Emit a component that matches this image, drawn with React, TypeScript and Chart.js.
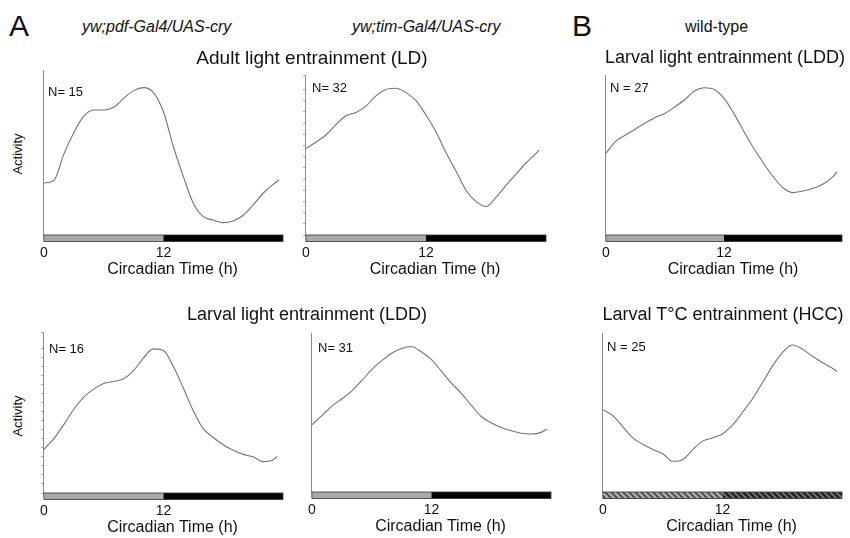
import React, { useEffect, useRef } from 'react';
import { Chart, registerables } from 'chart.js';

Chart.register(...registerables);

const FONT = '"Liberation Sans", Arial, Helvetica, sans-serif';

// ---------- data ----------
const HOURS = [0, 1, 2, 3, 4, 5, 6, 7, 8, 9, 10, 11, 12, 13, 14, 15, 16, 17, 18, 19, 20, 21, 22, 23];
const TICK_HOURS = [0, 12];
const LIGHT_START = 0;
const LIGHT_END = 12;
const CYCLE_END = 24;

// A, top-left: yw;pdf-Gal4/UAS-cry, adult LD
const PDF_LD_END = 23.6;
const PDF_LD = [31.5, 33, 49, 62, 72, 75.8, 75.8, 77.4, 82.8, 87.5, 89.3, 86.3, 74.7, 53.5, 35.4, 19.2, 11.1, 9.1, 7.5, 8.5, 12, 18.2, 25.3, 30.7, 33.3];
// A, top-middle: yw;tim-Gal4/UAS-cry, adult LD
const TIM_LD_END = 23.3;
const TIM_LD = [54, 58, 62.5, 69, 74.5, 76.5, 80.5, 87, 91, 91.7, 89, 84, 75, 64.5, 51.5, 40, 28, 21, 17.8, 23.5, 31, 38, 45, 51, 53];
// B, top-right: wild-type, larval LDD
const WT_LDD_END = 23.5;
const WT_LDD = [51, 58.5, 62.5, 66.3, 70, 73.5, 76, 80, 84.5, 90, 92, 91, 85.5, 76, 65, 54.5, 45, 36.5, 29.5, 26.5, 27.5, 29, 31.5, 36, 39.6];
// A, bottom-left: yw;pdf-Gal4/UAS-cry, larval LDD
const PDF_LDD_END = 23.4;
const PDF_LDD = [27, 33.8, 42.5, 52, 59.5, 64.5, 68, 69.2, 71, 76, 84, 89.5, 88.5, 78.5, 65, 51, 40, 34.5, 30, 26.5, 24, 22.5, 19.5, 20.5, 22.8];
// A, bottom-middle: yw;tim-Gal4/UAS-cry, larval LDD
const TIM_LDD_END = 23.6;
const TIM_LDD = [42.3, 48, 54, 58.5, 63.5, 70, 77, 82.5, 87.3, 90.3, 91.5, 88, 83.2, 76, 68.5, 62, 54.5, 47.5, 43.5, 40.5, 38.5, 37, 36.5, 37.5, 39.6];
// B, bottom-right: wild-type, larval HCC
const WT_HCC_END = 23.5;
const WT_HCC = [51.8, 48, 41, 34, 30, 26.8, 24, 19.3, 20.3, 26.5, 32, 34, 36.5, 42, 50, 58.5, 68.5, 79, 87.5, 92.5, 90, 85.5, 81.5, 78, 75.8];

// ---------- layout ----------
const PAD = 10;
const XAXIS_H = 30;
const BAR_H = 6.5;

type PanelCfg = {
  axisX: number; axisTop: number; barTop: number; w: number;
  hours: number[]; values: number[]; tickStep?: number; hatched?: boolean;
  n: string; nX: number; nY: number;
};

const PANELS: PanelCfg[] = [
  { axisX: 40, axisTop: 70, barTop: 235, w: 243, hours: [...HOURS, PDF_LD_END], values: PDF_LD, n: 'N= 15', nX: 48, nY: 91 },
  { axisX: 302, axisTop: 75, barTop: 235, w: 244, hours: [...HOURS, TIM_LD_END], values: TIM_LD, tickStep: 7, n: 'N= 32', nX: 312, nY: 87 },
  { axisX: 602, axisTop: 75, barTop: 235, w: 240, hours: [...HOURS, WT_LDD_END], values: WT_LDD, n: 'N = 27', nX: 610, nY: 87 },
  { axisX: 40, axisTop: 332, barTop: 493, w: 243, hours: [...HOURS, PDF_LDD_END], values: PDF_LDD, tickStep: 5.6, n: 'N= 16', nX: 49, nY: 348 },
  { axisX: 308, axisTop: 333, barTop: 492, w: 243, hours: [...HOURS, TIM_LDD_END], values: TIM_LDD, n: 'N= 31', nX: 318, nY: 347 },
  { axisX: 599, axisTop: 333, barTop: 492, w: 243, hours: [...HOURS, WT_HCC_END], values: WT_HCC, hatched: true, n: 'N = 25', nX: 607, nY: 346 },
];

function makeStripes(bg: string, fg: string, lw: number): CanvasPattern | string {
  const c = document.createElement('canvas');
  c.width = 6; c.height = 6;
  const g = c.getContext('2d');
  if (!g) return bg;
  g.fillStyle = bg; g.fillRect(0, 0, 6, 6);
  g.strokeStyle = fg; g.lineWidth = lw;
  g.beginPath();
  g.moveTo(-1, -1); g.lineTo(7, 7);
  g.moveTo(-4, 2); g.lineTo(4, 10);
  g.moveTo(2, -4); g.lineTo(10, 4);
  g.stroke();
  const ctx2 = document.createElement('canvas').getContext('2d');
  return (ctx2 && ctx2.createPattern(c, 'repeat')) || bg;
}

const lightBarPlugin = {
  id: 'lightBar',
  afterDraw(chart: any, _args: any, opts: any) {
    const { ctx, chartArea, scales } = chart;
    const x = scales.x;
    const xa = x.getPixelForValue(LIGHT_START);
    const xb = x.getPixelForValue(LIGHT_END);
    const xc = x.getPixelForValue(CYCLE_END);
    const y0 = chartArea.bottom;
    ctx.save();
    if (opts && opts.hatched) {
      ctx.fillStyle = makeStripes('#555555', '#b5b5b5', 2);
      ctx.fillRect(xa, y0, xb - xa, BAR_H);
      ctx.fillStyle = makeStripes('#262626', '#858585', 1.4);
      ctx.fillRect(xb, y0, xc - xb, BAR_H);
    } else {
      ctx.fillStyle = '#a9a9a9';
      ctx.fillRect(xa, y0, xb - xa, BAR_H);
      ctx.fillStyle = '#000';
      ctx.fillRect(xb, y0, xc - xb, BAR_H);
    }
    ctx.strokeStyle = '#333';
    ctx.lineWidth = 0.8;
    ctx.strokeRect(xa, y0, xc - xa, BAR_H);
    ctx.restore();
  },
};

function Panel({ cfg }: { cfg: PanelCfg }) {
  const ref = useRef<HTMLCanvasElement>(null);
  const cw = cfg.w + PAD * 2;
  const ch = cfg.barTop - cfg.axisTop + PAD + XAXIS_H;
  useEffect(() => {
    const canvas = ref.current;
    if (!canvas) return;
    const chart = new Chart(canvas, {
      type: 'line',
      data: {
        datasets: [{
          data: cfg.hours.map((h, i) => ({ x: h, y: cfg.values[i] })),
          borderColor: '#737373',
          borderWidth: 1.1,
          pointRadius: 0,
          fill: false,
          cubicInterpolationMode: 'monotone',
        }],
      },
      options: {
        animation: false,
        responsive: false,
        maintainAspectRatio: false,
        events: [],
        layout: { padding: { left: PAD, right: PAD, top: PAD, bottom: 0 } },
        plugins: {
          legend: { display: false },
          tooltip: { enabled: false },
          lightBar: { hatched: !!cfg.hatched },
        } as any,
        scales: {
          x: {
            type: 'linear', min: 0, max: CYCLE_END,
            grid: { display: false, drawTicks: false, tickLength: 0 },
            border: { display: false },
            afterBuildTicks: (s: any) => { s.ticks = TICK_HOURS.map((v) => ({ value: v })); },
            afterFit: (s: any) => { s.height = XAXIS_H; },
            ticks: { font: { family: FONT, size: 14 }, color: '#111', padding: 10, maxRotation: 0, autoSkip: false },
          },
          y: {
            min: 0, max: 100,
            ticks: { display: false, stepSize: cfg.tickStep || 10 },
            grid: { display: !!cfg.tickStep, drawOnChartArea: false, drawTicks: true, tickLength: 3, color: '#b0b0b0' },
            border: { display: true, color: '#8c8c8c', width: 1 },
            afterFit: (s: any) => { s.width = 0; },
          },
        },
      } as any,
      plugins: [lightBarPlugin],
    });
    return () => chart.destroy();
  }, []);
  return (
    <canvas
      ref={ref}
      width={cw}
      height={ch}
      style={{ position: 'absolute', left: cfg.axisX - PAD, top: cfg.axisTop - PAD, width: cw, height: ch }}
    />
  );
}

function T({ text, x, y, size, italic, center, color }: { text: string; x: number; y: number; size: number; italic?: boolean; center?: boolean; color?: string }) {
  return (
    <div style={{
      position: 'absolute', left: x, top: y, fontFamily: FONT, fontSize: size, lineHeight: `${size}px`,
      fontStyle: italic ? 'italic' : 'normal', whiteSpace: 'nowrap', color: color || '#111',
      transform: center ? 'translateX(-50%)' : undefined,
    }}>{text}</div>
  );
}

export default function App() {
  return (
    <div style={{ position: 'absolute', left: 0, top: 0, width: 850, height: 538, background: '#fff', overflow: 'hidden' }}>
      {PANELS.map((p, i) => <Panel key={i} cfg={p} />)}
      <T text="A" x={9} y={11} size={30} />
      <T text="B" x={572} y={11} size={30} />
      <T text="yw;pdf-Gal4/UAS-cry" x={82} y={19} size={16} italic />
      <T text="yw;tim-Gal4/UAS-cry" x={352} y={19} size={16} italic />
      <T text="wild-type" x={685} y={19} size={16} />
      <T text="Adult light entrainment (LD)" x={312} y={48} size={19} center />
      <T text="Larval light entrainment (LDD)" x={725} y={48} size={18} center />
      <T text="Larval light entrainment (LDD)" x={307} y={305} size={18} center />
      <T text="Larval T°C entrainment (HCC)" x={723} y={305} size={18} center />
      {PANELS.map((p, i) => <T key={'n' + i} text={p.n} x={p.nX} y={p.nY - 6.4} size={13} />)}
      {PANELS.map((p, i) => (
        <T key={'c' + i} text="Circadian Time (h)" x={p.axisX + p.w / 2 + 11} y={p.barTop + 33.5 - 7.8} size={16} center />
      ))}
      {[154, 416].map((cy, i) => (
        <div key={'a' + i} style={{
          position: 'absolute', left: 17, top: cy, fontFamily: FONT, fontSize: 13, lineHeight: '13px', color: '#111',
          transform: 'translate(-50%, -50%) rotate(-90deg)', whiteSpace: 'nowrap',
        }}>Activity</div>
      ))}
    </div>
  );
}
